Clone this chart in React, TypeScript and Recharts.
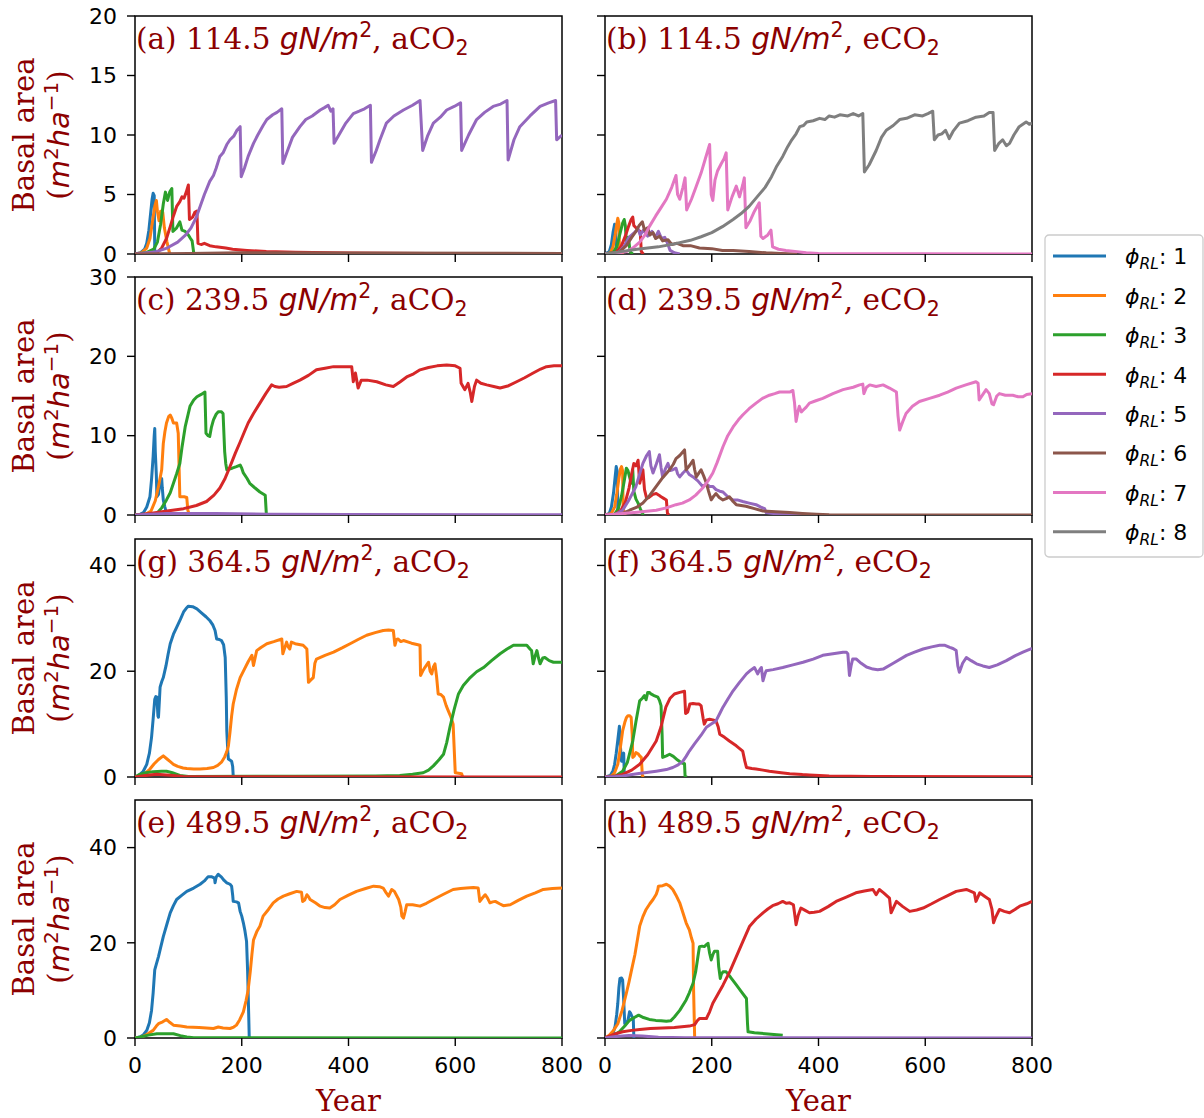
import React from "react";
import { LineChart, Line, XAxis, YAxis, ReferenceArea } from "recharts";

type Pt = [number, number];

const phiLabels = ["1", "2", "3", "4", "5", "6", "7", "8"];
const colors = ["#1f77b4", "#ff7f0e", "#2ca02c", "#d62728", "#9467bd", "#8c564b", "#e377c2", "#7f7f7f"];
const yearTicks = [0, 200, 400, 600, 800];
const rowNitrogen = ["114.5", "239.5", "364.5", "489.5"];
const rowYMax = [20, 30, 45, 50];
const rowYTicks = [[0, 5, 10, 15, 20], [0, 10, 20, 30], [0, 20, 40], [0, 20, 40]];
const colCo2 = ["aCO", "eCO"];

// (a) 114.5, aCO2
const a1: Pt[] = [[0,0],[10,0.1],[18,0.4],[22,0.9],[26,2.0],[29,3.3],[32,4.6],[34,5.1],[36,4.9],[37,0.3],[40,0]];
const a2: Pt[] = [[0,0],[12,0.1],[22,0.5],[28,1.3],[33,2.8],[37,4.0],[40,4.5],[42,3.6],[45,2.8],[48,3.6],[52,3.5],[55,2.2],[60,1.0],[64,0.2],[66,0]];
const a3: Pt[] = [[0,0],[20,0.1],[35,0.4],[42,1.0],[48,2.5],[53,4.2],[57,5.2],[61,4.5],[65,5.2],[69,5.5],[71,1.9],[78,2.2],[84,2.7],[88,2.0],[94,1.9],[100,1.6],[104,1.3],[107,1.1],[110,0.1],[114,0]];
const a4: Pt[] = [[0,0],[30,0.05],[41,0.1],[50,0.5],[59,1.3],[66,2.3],[72,3.2],[78,4.0],[84,4.4],[88,4.8],[92,4.7],[96,5.2],[100,5.8],[102,2.9],[108,3.1],[112,3.5],[116,3.6],[118,0.9],[125,0.8],[130,0.9],[140,0.7],[152,0.6],[170,0.5],[183,0.4],[210,0.3],[246,0.2],[300,0.15],[400,0.08],[550,0.04],[800,0.02]];
const a5: Pt[] = [[0,0],[40,0.2],[60,0.5],[80,1.0],[95,1.6],[105,2.2],[115,3.1],[122,4.0],[130,5.0],[140,6.1],[147,6.6],[152,7.2],[159,8.2],[165,8.5],[172,9.2],[178,9.6],[185,9.9],[191,10.4],[197,10.7],[199,6.5],[205,7.2],[212,8.2],[222,9.3],[230,10.0],[240,10.8],[247,11.3],[258,11.7],[266,11.9],[275,12.2],[277,7.6],[285,8.6],[295,9.8],[309,10.7],[320,11.3],[332,11.6],[347,12.1],[355,12.3],[362,12.5],[367,12.0],[371,12.2],[373,9.3],[382,10.0],[395,11.0],[409,11.8],[420,12.0],[430,12.2],[441,12.5],[443,7.7],[452,8.7],[459,9.6],[471,11.0],[485,11.6],[503,12.1],[520,12.5],[534,12.9],[539,8.7],[548,9.9],[559,11.0],[572,11.5],[584,12.1],[598,12.4],[610,12.7],[612,8.7],[625,10.0],[640,11.3],[655,11.9],[671,12.4],[685,12.6],[697,12.9],[699,7.9],[710,9.6],[721,10.7],[740,11.6],[759,12.4],[775,12.7],[788,12.9],[790,9.6],[800,10.0]];
const a6: Pt[] = [[0,0],[100,0.05],[200,0.1],[400,0.08],[800,0.05]];

// (b) 114.5, eCO2
const b1: Pt[] = [[0,0],[8,0.2],[12,0.8],[15,1.8],[18,2.5],[20,2.3],[21,0.3],[25,0]];
const b2: Pt[] = [[0,0],[10,0.1],[15,0.6],[19,1.6],[22,2.5],[24,3.0],[26,2.6],[27,0.5],[30,0.6],[33,0]];
const b3: Pt[] = [[0,0],[15,0.1],[22,0.6],[28,1.7],[33,2.6],[36,2.9],[38,2.4],[40,1.0],[44,1.4],[47,0.2],[52,0]];
const b4: Pt[] = [[0,0],[20,0.1],[30,0.6],[38,1.5],[44,2.3],[49,2.9],[52,3.1],[54,2.4],[58,2.2],[62,2.0],[66,1.9],[68,0.2],[72,0]];
const b5: Pt[] = [[0,0],[25,0.1],[35,0.6],[45,1.4],[55,1.8],[62,2.1],[66,1.6],[72,2.0],[80,1.5],[88,1.9],[94,1.4],[100,1.9],[106,1.3],[112,1.4],[118,0.8],[122,0.3],[130,0.1],[140,0]];
const b6: Pt[] = [[0,0],[25,0.1],[40,0.7],[50,1.4],[58,1.9],[64,2.4],[70,2.7],[74,2.0],[80,2.2],[84,1.6],[90,1.8],[95,1.3],[102,1.5],[108,1.1],[118,1.2],[125,0.8],[135,0.9],[146,0.7],[160,0.7],[177,0.5],[200,0.45],[220,0.3],[240,0.3],[270,0.2],[302,0.1],[330,0.05],[360,0]];
const b7: Pt[] = [[0,0],[20,0.05],[40,0.2],[52,0.5],[65,1.0],[75,1.6],[83,2.3],[95,3.2],[105,3.9],[115,4.6],[125,5.6],[133,6.6],[136,5.0],[140,4.6],[146,5.6],[150,6.4],[153,3.7],[162,4.6],[171,5.7],[180,6.8],[188,8.0],[196,9.2],[199,5.0],[202,4.5],[206,6.2],[211,7.0],[218,7.6],[223,8.0],[227,8.5],[230,3.7],[238,4.8],[246,5.7],[252,4.8],[258,5.8],[261,6.4],[264,2.2],[272,2.8],[280,3.6],[289,4.3],[292,1.5],[296,1.3],[305,1.6],[311,2.0],[314,0.6],[325,0.4],[339,0.3],[360,0.2],[377,0.1],[400,0.05],[800,0]];
const b8: Pt[] = [[0,0],[30,0.2],[60,0.4],[100,0.6],[130,0.85],[160,1.15],[180,1.45],[200,1.8],[220,2.3],[240,2.9],[255,3.4],[270,4.0],[285,4.8],[300,5.6],[312,6.5],[322,7.4],[333,8.2],[342,9.0],[350,9.6],[358,10.1],[365,10.7],[372,10.8],[378,11.1],[390,11.2],[402,11.4],[412,11.3],[420,11.6],[430,11.5],[440,11.7],[455,11.6],[465,11.8],[475,11.6],[483,11.8],[486,6.9],[495,7.5],[508,8.7],[518,9.8],[527,10.4],[540,10.8],[552,11.3],[565,11.4],[580,11.7],[595,11.6],[605,11.8],[614,12.0],[617,9.6],[624,10.0],[631,10.1],[638,10.4],[645,9.7],[652,10.3],[664,11.0],[680,11.2],[695,11.5],[710,11.6],[720,11.9],[727,11.9],[730,8.7],[738,9.3],[745,9.6],[752,9.1],[758,9.3],[766,10.0],[776,10.7],[789,11.1],[795,10.9],[800,11.0]];

// (c) 239.5, aCO2
const c1: Pt[] = [[0,0],[10,0.1],[16,0.3],[22,1.0],[28,2.3],[31,4.5],[34,7.4],[36,10.0],[37,10.9],[38,8.0],[40,5.0],[41,2.3],[44,2.6],[46,3.6],[48,4.3],[50,4.6],[51,3.5],[53,1.9],[56,1.0],[59,0.2],[62,0]];
const c2: Pt[] = [[0,0],[20,0.1],[30,0.5],[38,1.8],[44,3.6],[50,5.7],[53,9.0],[56,10.5],[59,11.6],[63,12.4],[66,12.6],[69,12.2],[72,11.6],[78,11.6],[81,10.3],[84,2.3],[92,2.3],[97,2.2],[99,0.6],[102,0]];
const c3: Pt[] = [[0,0],[25,0.1],[41,0.2],[50,0.9],[59,1.9],[66,2.8],[72,4.0],[78,5.2],[84,6.5],[88,8.5],[94,11.1],[103,13.7],[110,14.5],[116,14.9],[124,15.2],[131,15.5],[133,10.3],[137,10.0],[140,9.9],[143,11.0],[147,12.0],[152,12.7],[156,13.0],[162,13.0],[165,12.8],[168,8.0],[170,6.5],[172,5.7],[182,5.9],[190,6.1],[197,6.3],[200,5.9],[203,5.3],[210,4.6],[215,4.0],[225,3.4],[234,2.9],[244,2.5],[246,0.2],[250,0]];
const c4: Pt[] = [[0,0],[28,0.2],[60,0.5],[91,0.8],[115,1.2],[134,1.7],[148,2.5],[159,3.4],[168,4.5],[178,6.1],[188,7.8],[197,9.2],[205,10.5],[212,11.6],[222,12.8],[234,14.1],[245,15.3],[256,16.4],[262,16.2],[270,16.1],[284,16.2],[296,16.6],[309,17.0],[325,17.6],[340,18.3],[356,18.5],[372,18.7],[390,18.7],[406,18.7],[409,16.8],[413,17.9],[418,16.0],[424,17.0],[435,17.0],[453,16.8],[470,16.4],[484,16.2],[497,16.8],[509,17.4],[522,17.8],[534,18.3],[550,18.6],[566,18.8],[584,18.9],[600,18.8],[609,18.5],[611,16.6],[618,15.8],[624,16.6],[628,15.5],[631,14.3],[636,16.2],[640,17.0],[648,16.6],[659,16.4],[672,16.2],[684,16.0],[700,16.3],[715,16.8],[730,17.3],[746,17.9],[760,18.4],[771,18.7],[785,18.8],[800,18.8]];
const c5: Pt[] = [[0,0],[30,0.1],[60,0.2],[150,0.2],[250,0.1],[400,0.05],[800,0.02]];

// (d) 239.5, eCO2
const d1: Pt[] = [[0,0],[8,0.2],[12,1.0],[16,2.8],[19,4.8],[21,6.1],[23,5.5],[24,0.5],[27,0]];
const d2: Pt[] = [[0,0],[12,0.2],[18,1.0],[22,2.6],[26,4.6],[29,5.8],[31,6.1],[33,5.6],[34,0.8],[38,0]];
const d3: Pt[] = [[0,0],[18,0.1],[25,0.8],[31,2.4],[36,4.3],[40,5.9],[43,5.6],[46,4.8],[49,4.0],[52,5.7],[54,3.0],[58,2.0],[62,1.5],[66,0.8],[70,0.2],[72,0]];
const d4: Pt[] = [[0,0],[20,0.1],[30,0.6],[38,1.6],[45,3.4],[50,5.2],[54,6.5],[58,6.2],[62,6.9],[65,4.0],[68,4.8],[71,5.7],[74,3.2],[78,2.1],[82,2.2],[90,2.6],[96,2.7],[101,2.5],[105,2.3],[110,2.1],[115,1.9],[117,0.2],[120,0]];
const d5: Pt[] = [[0,0],[20,0.1],[33,0.6],[45,1.9],[58,3.6],[66,5.4],[71,6.5],[78,7.5],[83,8.0],[86,6.2],[90,5.3],[96,6.4],[102,7.6],[105,6.0],[108,4.8],[113,5.8],[118,6.5],[122,5.6],[127,5.7],[133,5.9],[136,5.2],[140,4.8],[146,5.3],[152,5.7],[158,5.1],[165,4.8],[174,4.3],[183,3.6],[190,3.9],[196,3.6],[202,3.6],[208,3.2],[215,3.0],[221,2.9],[230,2.3],[240,1.9],[248,1.9],[258,1.7],[270,1.5],[283,1.3],[292,1.0],[299,0.8],[302,0.3],[320,0.15],[350,0.05],[400,0]];
const d6: Pt[] = [[0,0],[30,0.1],[46,0.6],[60,1.0],[71,1.5],[84,2.5],[96,3.6],[108,4.7],[121,5.7],[128,6.4],[133,7.1],[140,7.5],[149,8.2],[152,5.7],[158,6.2],[165,6.9],[168,5.7],[171,4.8],[176,5.3],[180,5.7],[185,4.9],[190,4.0],[194,3.0],[199,1.9],[204,2.4],[208,2.7],[214,2.2],[221,1.9],[228,2.1],[233,2.3],[240,1.7],[246,1.3],[255,1.2],[264,1.1],[280,0.8],[296,0.5],[320,0.4],[346,0.3],[370,0.2],[396,0.1],[420,0.03],[800,0]];
const d7: Pt[] = [[0,0],[33,0.2],[60,0.35],[96,0.6],[115,0.9],[133,1.3],[145,1.5],[158,1.9],[170,2.5],[183,3.4],[193,4.3],[202,5.3],[210,6.6],[221,8.6],[230,10.0],[240,11.1],[250,12.0],[258,12.6],[270,13.4],[283,14.1],[295,14.7],[308,15.1],[318,15.3],[327,15.5],[337,15.5],[346,15.5],[352,15.7],[355,14.2],[358,11.8],[362,13.2],[364,13.7],[368,13.0],[371,13.2],[377,13.6],[383,14.1],[395,14.4],[408,14.7],[427,15.3],[446,15.8],[465,16.1],[477,16.4],[483,16.5],[485,15.3],[490,16.1],[496,16.4],[508,16.2],[521,16.4],[533,16.0],[546,15.5],[549,12.5],[552,10.7],[558,11.8],[564,12.8],[576,13.7],[589,14.3],[608,14.7],[627,15.1],[642,15.5],[658,16.0],[676,16.4],[695,16.8],[699,16.6],[701,14.5],[708,15.2],[714,15.8],[720,15.3],[725,14.0],[728,13.9],[734,15.0],[739,15.3],[750,15.1],[764,15.1],[774,14.9],[783,14.9],[790,15.2],[800,15.3]];

// (g) 364.5, aCO2
const g1: Pt[] = [[0,0],[6,0.2],[15,1.0],[22,2.4],[27,4.5],[31,7.5],[34,11.0],[37,14.7],[39,15.2],[41,15.1],[43,11.5],[44,11.3],[46,15.0],[47,17.0],[50,18.0],[53,18.8],[58,21.0],[62,23.2],[66,25.2],[72,27.0],[78,28.3],[85,29.8],[91,31.2],[96,31.9],[100,32.3],[108,32.2],[116,31.8],[125,31.0],[133,30.3],[140,29.6],[146,28.7],[150,27.7],[153,26.1],[158,26.0],[162,25.8],[166,25.0],[169,22.6],[171,15.0],[172,8.7],[174,4.5],[175,3.4],[181,3.0],[183,2.0],[184,0.2],[188,0]];
const g2: Pt[] = [[0,0],[9,0.2],[18,0.6],[28,1.5],[36,2.5],[44,3.3],[53,4.0],[60,3.4],[66,2.9],[72,2.4],[80,2.0],[90,1.7],[97,1.6],[110,1.5],[122,1.5],[135,1.6],[147,1.8],[155,2.2],[162,2.8],[168,3.8],[172,4.8],[175,5.9],[178,8.5],[181,11.5],[184,13.8],[190,16.5],[197,18.8],[205,20.4],[212,21.8],[219,23.0],[222,21.1],[225,22.5],[228,23.9],[236,24.5],[247,25.2],[260,25.6],[275,26.1],[277,23.3],[284,25.5],[287,24.6],[290,24.2],[293,25.5],[300,25.2],[310,25.0],[315,24.9],[322,24.2],[325,17.9],[330,18.4],[334,18.8],[337,21.5],[340,22.3],[356,23.0],[372,23.6],[388,24.4],[403,25.2],[418,26.0],[434,26.8],[450,27.3],[465,27.7],[475,27.8],[484,27.7],[487,24.9],[490,26.0],[493,26.1],[498,25.6],[503,25.8],[518,25.3],[534,24.9],[535,19.2],[540,20.2],[543,20.7],[550,21.7],[553,20.0],[556,19.5],[559,20.8],[562,21.4],[565,19.0],[568,15.7],[573,15.6],[578,15.1],[583,13.5],[587,12.5],[592,11.3],[596,10.0],[600,0.8],[612,0.6],[614,0]];
const g3: Pt[] = [[0,0],[9,0.5],[20,0.8],[34,1.0],[50,1.1],[59,1.1],[70,0.8],[84,0.3],[100,0.1],[300,0.15],[450,0.2],[496,0.3],[520,0.5],[540,0.8],[550,1.3],[559,2.1],[570,3.3],[578,4.3],[584,6.5],[590,9.4],[598,12.8],[606,15.7],[615,17.3],[628,18.8],[640,19.9],[653,20.7],[668,22.0],[684,23.3],[697,24.2],[709,24.9],[720,24.9],[734,24.9],[740,24.2],[743,23.9],[746,21.4],[750,23.0],[753,23.9],[756,22.5],[759,21.4],[764,22.5],[768,22.6],[776,22.0],[784,21.7],[800,21.7]];
const g4: Pt[] = [[0,0],[20,0.3],[40,0.5],[60,0.4],[90,0.1],[150,0.05],[800,0]];

// (f) 364.5, eCO2
const f1: Pt[] = [[0,0],[10,0.3],[15,1.2],[18,2.4],[21,4.5],[24,7.0],[27,9.6],[28,8.0],[29,5.6],[31,3.0],[33,4.2],[35,4.5],[36,1.0],[38,0]];
const f2: Pt[] = [[0,0],[12,0.2],[18,0.8],[24,2.4],[28,5.0],[33,8.7],[37,10.3],[40,11.2],[43,11.6],[46,11.6],[49,11.3],[51,8.0],[52,3.7],[55,4.0],[58,4.6],[62,4.4],[65,4.0],[68,3.7],[70,0.3],[72,0]];
const f3: Pt[] = [[0,0],[20,0.2],[33,1.1],[42,2.8],[52,6.8],[58,10.5],[65,14.4],[70,14.9],[74,15.4],[77,14.6],[80,16.0],[83,16.0],[86,15.7],[92,15.4],[99,15.1],[102,14.5],[105,13.5],[107,8.0],[108,3.7],[115,4.0],[121,4.3],[128,3.9],[136,3.2],[143,2.7],[149,2.5],[150,0.2],[153,0]];
const f4: Pt[] = [[0,0],[20,0.2],[33,0.5],[50,1.3],[65,2.4],[80,4.2],[96,6.8],[105,9.5],[114,13.2],[122,14.9],[130,15.7],[140,16.0],[149,16.2],[151,12.0],[155,12.3],[159,13.8],[165,13.9],[171,13.8],[176,13.8],[180,13.5],[184,11.0],[186,10.0],[190,10.8],[196,10.9],[202,10.8],[208,10.6],[212,9.5],[215,8.1],[224,7.5],[233,6.8],[246,5.9],[258,4.9],[262,3.0],[265,1.8],[275,1.6],[283,1.5],[296,1.3],[308,1.1],[330,0.8],[346,0.6],[370,0.45],[383,0.4],[420,0.2],[500,0.1],[800,0.05]];
const f5: Pt[] = [[0,0],[20,0.1],[33,0.2],[60,0.6],[96,1.1],[115,1.4],[127,1.8],[137,2.3],[146,3.0],[152,3.9],[158,4.9],[168,6.3],[180,7.9],[190,9.4],[199,10.0],[208,10.6],[215,12.0],[221,13.2],[230,14.7],[240,16.3],[252,17.9],[265,19.5],[273,20.2],[280,20.7],[283,20.1],[286,19.5],[290,20.3],[293,20.7],[295,19.0],[296,18.2],[300,19.6],[302,20.1],[315,20.3],[333,20.7],[352,21.2],[371,21.7],[390,22.3],[408,23.0],[427,23.3],[446,23.6],[452,23.6],[455,23.3],[457,20.5],[458,19.2],[461,21.0],[464,22.3],[471,22.3],[480,21.5],[490,20.8],[502,20.4],[511,20.3],[521,20.4],[540,21.5],[565,23.0],[580,23.6],[596,24.2],[612,24.6],[627,24.9],[637,24.9],[646,24.5],[652,24.3],[658,23.9],[661,21.0],[664,19.8],[670,21.5],[677,22.6],[686,22.0],[696,21.4],[708,21.0],[720,20.7],[735,21.2],[752,22.0],[768,22.9],[783,23.6],[800,24.3]];

// (e) 489.5, aCO2
const e1: Pt[] = [[0,0],[9,0.2],[16,0.7],[22,1.6],[27,3.2],[31,5.8],[34,9.5],[37,14.3],[40,15.5],[44,17.1],[48,19.0],[53,21.3],[60,24.0],[66,26.3],[72,27.8],[78,29.1],[88,30.0],[97,30.8],[110,31.5],[122,32.3],[130,33.0],[137,33.9],[143,33.9],[149,33.6],[150,32.6],[152,33.8],[156,34.4],[162,33.8],[167,33.1],[172,32.6],[178,32.3],[181,31.9],[183,30.0],[184,28.7],[190,28.6],[194,28.4],[197,26.6],[200,25.6],[203,24.2],[206,22.5],[209,20.3],[211,14.0],[213,5.0],[214,0.2],[216,0]];
const e2: Pt[] = [[0,0],[9,0.1],[20,0.6],[34,1.6],[40,2.5],[44,3.0],[52,3.4],[59,3.9],[65,3.3],[72,2.7],[85,2.5],[97,2.3],[120,2.2],[147,2.0],[153,2.2],[156,2.3],[165,2.1],[178,2.0],[185,2.3],[190,2.7],[196,3.8],[203,5.5],[208,7.8],[212,10.1],[216,14.0],[219,17.5],[222,20.6],[228,22.3],[234,23.5],[240,25.6],[250,27.0],[259,28.4],[268,29.2],[278,29.8],[290,30.3],[303,30.8],[312,30.6],[314,28.7],[318,29.0],[322,30.1],[325,29.7],[328,29.1],[338,28.4],[347,27.7],[356,27.4],[365,27.3],[374,28.0],[384,29.1],[400,30.0],[415,30.8],[432,31.4],[447,31.9],[458,31.8],[465,31.5],[470,30.6],[475,29.8],[481,31.2],[486,30.8],[494,29.1],[498,27.5],[500,25.6],[503,25.2],[506,26.5],[509,28.0],[520,28.0],[534,27.7],[546,28.3],[559,29.1],[578,30.2],[596,31.2],[610,31.4],[621,31.5],[634,31.6],[643,31.5],[646,28.7],[650,29.3],[656,30.1],[660,29.5],[665,28.4],[670,28.6],[675,28.7],[683,28.2],[690,27.8],[703,28.0],[718,28.9],[734,29.8],[750,30.5],[765,31.2],[782,31.4],[800,31.5]];
const e3: Pt[] = [[0,0],[10,0.2],[25,0.6],[41,0.9],[56,0.9],[72,0.9],[85,0.5],[97,0.2],[110,0.05],[800,0]];

// (h) 489.5, eCO2
const h1: Pt[] = [[0,0],[8,0.2],[15,0.9],[19,2.5],[22,5.0],[24,7.3],[26,10.5],[28,12.5],[31,12.6],[33,12.2],[35,8.0],[37,3.0],[40,3.2],[43,3.7],[46,5.5],[48,5.2],[51,4.4],[53,4.0],[54,0.2],[56,0]];
const h2: Pt[] = [[0,0],[8,0.6],[16,1.6],[24,3.0],[32,5.8],[40,9.4],[45,11.8],[49,13.9],[56,17.5],[65,23.5],[71,25.5],[77,27.0],[84,28.2],[90,29.1],[96,30.2],[99,31.2],[100,31.9],[108,32.0],[115,32.3],[121,31.9],[127,31.2],[133,30.0],[140,28.4],[146,26.3],[152,24.2],[156,23.2],[158,22.7],[162,21.0],[165,19.9],[166,10.0],[168,0]];
const h3: Pt[] = [[0,0],[8,0.2],[17,0.6],[27,1.3],[37,2.5],[46,3.7],[55,4.3],[63,4.8],[72,4.3],[83,3.9],[95,3.7],[105,3.6],[115,3.5],[123,3.6],[130,4.4],[140,5.8],[152,8.0],[158,9.5],[165,11.5],[170,14.0],[174,17.0],[177,19.2],[182,19.3],[186,19.2],[190,19.6],[193,19.9],[196,17.8],[199,16.4],[202,17.5],[205,18.2],[211,18.2],[213,15.0],[216,12.5],[218,13.4],[221,13.9],[227,13.9],[235,12.8],[245,11.3],[255,9.8],[265,8.3],[267,3.0],[268,1.3],[280,1.1],[300,0.9],[333,0.6]];
const h4: Pt[] = [[0,0],[8,0.4],[20,0.9],[33,1.3],[50,1.6],[65,1.8],[85,2.0],[108,2.1],[130,2.2],[158,2.5],[168,2.8],[172,3.5],[177,4.1],[185,4.1],[190,4.1],[196,5.5],[202,7.3],[212,9.3],[221,11.1],[234,14.0],[246,17.1],[258,20.2],[271,23.5],[283,25.0],[296,26.3],[305,27.1],[314,27.8],[324,28.2],[333,28.7],[340,28.3],[346,28.4],[353,28.0],[356,25.5],[358,23.8],[362,25.8],[367,27.3],[375,26.8],[383,26.3],[392,26.4],[402,26.6],[418,27.6],[433,28.7],[452,29.6],[470,30.5],[486,30.9],[502,31.2],[508,30.1],[514,31.2],[522,30.5],[533,29.4],[536,26.3],[541,27.5],[546,28.7],[558,27.6],[571,26.6],[584,26.9],[596,27.3],[612,28.2],[627,29.1],[642,29.9],[658,30.8],[677,31.2],[692,30.5],[695,28.7],[699,29.7],[702,30.5],[711,29.8],[720,29.1],[725,27.0],[728,24.2],[732,25.4],[739,27.0],[748,26.6],[758,26.3],[768,27.0],[777,27.7],[790,28.2],[800,28.7]];
const h5: Pt[] = [[0,0],[20,0.3],[45,0.5],[70,0.4],[100,0.15],[150,0.05],[800,0]];

// series index = phi - 1
const panels = [
  { tag: "a", row: 0, col: 0, series: [a1, a2, a3, a4, a5, a6] },
  { tag: "b", row: 0, col: 1, series: [b1, b2, b3, b4, b5, b6, b7, b8] },
  { tag: "c", row: 1, col: 0, series: [c1, c2, c3, c4, c5] },
  { tag: "d", row: 1, col: 1, series: [d1, d2, d3, d4, d5, d6, d7] },
  { tag: "g", row: 2, col: 0, series: [g1, g2, g3, g4] },
  { tag: "f", row: 2, col: 1, series: [f1, f2, f3, f4, f5] },
  { tag: "e", row: 3, col: 0, series: [e1, e2, e3] },
  { tag: "h", row: 3, col: 1, series: [h1, h2, h3, h4, h5] },
];

const RED = "#8b0000";
const SERIF = '"DejaVu Serif", serif';
const SANS = '"DejaVu Sans", sans-serif';
const PLOT_LEFT = [135, 605];
const PLOT_TOP = [16, 277, 539, 800];
const PLOT_W = 427;
const PLOT_H = 238;
const TOP_PAD = 20;
const RIGHT_PAD = 30;

function Panel({ p }: { p: (typeof panels)[number] }) {
  const axisW = p.col === 0 ? 135 : 20;
  const xH = p.row === 3 ? 45 : 20;
  const last = p.row === 3;
  const yMax = rowYMax[p.row];
  return (
    <div style={{ position: "absolute", left: PLOT_LEFT[p.col] - axisW, top: PLOT_TOP[p.row] - TOP_PAD }}>
      <LineChart
        width={axisW + PLOT_W + RIGHT_PAD}
        height={TOP_PAD + PLOT_H + xH}
        margin={{ top: TOP_PAD, right: RIGHT_PAD, bottom: 0, left: 0 }}
      >
        <XAxis
          type="number"
          dataKey="x"
          domain={[0, 800]}
          ticks={yearTicks}
          interval={0}
          allowDataOverflow
          height={xH}
          axisLine={false}
          tickSize={8}
          tickMargin={11}
          tickLine={{ stroke: "#000", strokeWidth: 1.4 }}
          tick={{ fill: "#000", fontSize: 22, fontFamily: SANS }}
          tickFormatter={(v: number) => (last ? String(v) : "")}
        />
        <YAxis
          type="number"
          domain={[0, yMax]}
          ticks={rowYTicks[p.row]}
          interval={0}
          allowDataOverflow
          width={axisW}
          axisLine={false}
          tickSize={8}
          tickMargin={10}
          tickLine={{ stroke: "#000", strokeWidth: 1.4 }}
          tick={{ fill: "#000", fontSize: 22, fontFamily: SANS }}
          tickFormatter={(v: number) => (p.col === 0 ? String(v) : "")}
        />
        {p.series.map((pts, i) => (
          <Line
            key={i}
            data={pts.map(([x, y]) => ({ x, y }))}
            dataKey="y"
            type="linear"
            stroke={colors[i]}
            strokeWidth={3}
            strokeLinejoin="round"
            dot={false}
            isAnimationActive={false}
          />
        ))}
        <ReferenceArea
          x1={0}
          x2={800}
          y1={0}
          y2={yMax}
          fill="none"
          fillOpacity={0}
          stroke="#000"
          strokeWidth={1.5}
          ifOverflow="visible"
        />
      </LineChart>
      <div
        style={{
          position: "absolute",
          left: axisW + 1,
          top: TOP_PAD + 34 - 25,
          fontFamily: SERIF,
          fontSize: 29.5,
          lineHeight: "29.5px",
          color: RED,
          whiteSpace: "nowrap",
        }}
      >
        ({p.tag}) {rowNitrogen[p.row]}{" "}
        <span style={{ fontFamily: SANS, fontStyle: "italic" }}>
          gN/m
          <span style={{ fontStyle: "normal", fontSize: 20.5, lineHeight: 0, verticalAlign: 12 }}>2</span>
        </span>
        , {colCo2[p.col]}
        <span style={{ fontFamily: SANS, fontSize: 20.5, lineHeight: 0, verticalAlign: -6 }}>2</span>
      </div>
    </div>
  );
}

function YLabels() {
  return (
    <svg style={{ position: "absolute", left: 0, top: 0 }} width={100} height={1118}>
      {PLOT_TOP.map((t, r) => {
        const cy = t + PLOT_H / 2;
        return (
          <g key={r} fill={RED} fontSize={29}>
            <text transform={`translate(33.5, ${cy}) rotate(-90)`} textAnchor="middle" fontFamily={SERIF}>
              Basal area
            </text>
            <text transform={`translate(68.5, ${cy}) rotate(-90)`} textAnchor="middle" fontFamily={SERIF}>
              (
              <tspan fontFamily={SANS} fontStyle="italic">m</tspan>
              <tspan fontFamily={SANS} fontSize={20} dy={-11}>2</tspan>
              <tspan fontFamily={SANS} fontStyle="italic" dy={11}>ha</tspan>
              <tspan fontFamily={SANS} fontSize={20} dy={-11}>−1</tspan>
              <tspan dy={11}>)</tspan>
            </text>
          </g>
        );
      })}
    </svg>
  );
}

function XLabels() {
  return (
    <svg style={{ position: "absolute", left: 0, top: 1080 }} width={1204} height={38}>
      {PLOT_LEFT.map((l, c) => (
        <text key={c} x={l + PLOT_W / 2} y={31} textAnchor="middle" fontFamily={SERIF} fontSize={29} fill={RED}>
          Year
        </text>
      ))}
    </svg>
  );
}

function SharedLegend() {
  return (
    <svg style={{ position: "absolute", left: 1044, top: 234 }} width={160} height={325}>
      <rect x={1} y={1} width={158} height={322} rx={4} fill="#fff" fillOpacity={0.8} stroke="#cccccc" strokeWidth={1.3} />
      {phiLabels.map((lab, i) => {
        const cy = 22 + i * 39.4;
        return (
          <g key={lab}>
            <line x1={9} x2={62} y1={cy} y2={cy} stroke={colors[i]} strokeWidth={3} />
            <text x={81} y={cy + 8.3} fontFamily={SANS} fontSize={22} fill="#000">
              <tspan fontStyle="italic">ϕ</tspan>
              <tspan fontStyle="italic" fontSize={15.5} dy={5}>RL</tspan>
              <tspan dy={-5}>: {lab}</tspan>
            </text>
          </g>
        );
      })}
    </svg>
  );
}

export default function App() {
  return (
    <div style={{ position: "absolute", left: 0, top: 0, width: 1204, height: 1118, background: "#fff" }}>
      {panels.map((p) => (
        <Panel key={p.tag} p={p} />
      ))}
      <YLabels />
      <XLabels />
      <SharedLegend />
    </div>
  );
}
